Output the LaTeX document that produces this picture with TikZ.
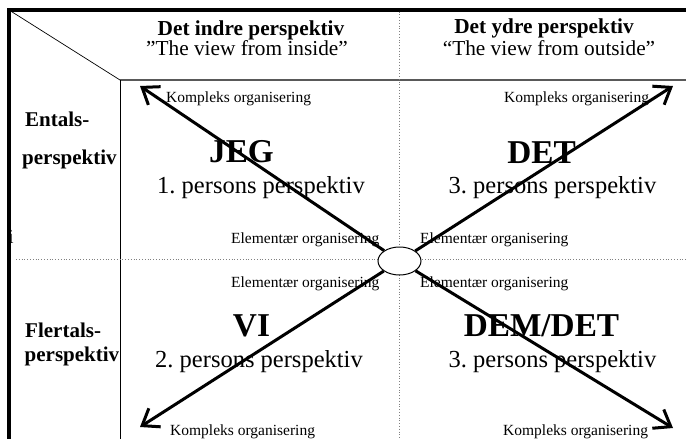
\documentclass[tikz,border=0pt]{standalone}
\usepackage{fontspec}
\setmainfont{Liberation Serif}
\usetikzlibrary{arrows.meta,shapes.geometric}
\frenchspacing
\tikzset{
  hdr/.style={inner sep=0pt, anchor=base, font=\fontsize{21.3}{24}\selectfont\bfseries},
  sub/.style={inner sep=0pt, anchor=base, font=\fontsize{21.3}{24}\selectfont},
  side/.style={inner sep=0pt, anchor=base west, font=\fontsize{21}{24}\selectfont\bfseries},
  big/.style={inner sep=0pt, anchor=base, font=\fontsize{33.3}{36}\selectfont\bfseries},
  mid/.style={inner sep=0pt, anchor=base, font=\fontsize{24.5}{28}\selectfont},
  small/.style={inner sep=0pt, anchor=base west, font=\fontsize{15.5}{18}\selectfont},
  arr/.style={line width=3pt, -{Straight Barb[length=15pt, width=22pt, line width=3pt]}},
  dotline/.style={gray, line width=0.8pt, dotted},
}
\begin{document}
\begin{tikzpicture}[x=1pt, y=-1pt]
\useasboundingbox (0,0) rectangle (686,439);
\fill[white] (0,0) rectangle (686,439);
% frame
\draw[line width=3.3pt] (9,439) -- (9,10) -- (686,10);
\draw[line width=0.7pt] (9,10) -- (120,80);
\draw[line width=1.2pt, black!65] (120,80) -- (686,80);
\draw[line width=1pt] (120,80) -- (120,439);
\draw[dotline] (399,11.5) -- (399,439);
\draw[dotline] (16,259) -- (686,259);
% headers
\node[hdr] (h1) at (251,35) {Det indre perspektiv};
\node[sub] (h1s) at (247,56) {”The view from inside”};
\node[hdr] (h2) at (544,33) {Det ydre perspektiv};
\node[sub] (h2s) at (549,55) {“The view from outside”};
% side labels
\node[side] (s1) at (25,126.5) {Entals-};
\node[side] (s2) at (22,164) {perspektiv};
\node[side] (s3) at (25,337.5) {Flertals-};
\node[side] (s4) at (24.5,361.5) {perspektiv};
\node[inner sep=0pt, anchor=base west, font=\fontsize{20}{24}\selectfont] (stray) at (8,243) {i};
% small labels
\node[small] (k1) at (166,102) {Kompleks organisering};
\node[small] (k2) at (504,102) {Kompleks organisering};
\node[small] (e1) at (231,243) {Elementær organisering};
\node[small] (e2) at (420,243) {Elementær organisering};
\node[small] (e3) at (231,287) {Elementær organisering};
\node[small] (e4) at (420,287) {Elementær organisering};
\node[small] (k3) at (170,435.5) {Kompleks organisering};
\node[small] (k4) at (503,435.5) {Kompleks organisering};
% quadrant texts
\node[big] (jeg) at (241.5,162) {JEG};
\node[mid] (p1) at (261,193) {1. persons perspektiv};
\node[big] (det) at (541.5,163) {DET};
\node[mid] (p3a) at (552.5,193) {3. persons perspektiv};
\node[big] (vi) at (251.5,336) {VI};
\node[mid] (p2) at (259,367) {2. persons perspektiv};
\node[big] (demdet) at (541.5,336) {DEM/DET};
\node[mid] (p3b) at (552.5,367) {3. persons perspektiv};
% centre ellipse and arrows
\node[ellipse, draw, line width=1pt, fill=white, minimum width=43pt, minimum height=28pt, inner sep=0pt] (c) at (399.5,261) {};
\coordinate (tl) at (140,86);
\coordinate (tr) at (673,86);
\coordinate (bl) at (140,427);
\coordinate (br) at (673,428);
\draw[arr] (c) -- (tl);
\draw[arr] (c) -- (tr);
\draw[arr] (c) -- (bl);
\draw[arr] (c) -- (br);
\end{tikzpicture}
\end{document}
